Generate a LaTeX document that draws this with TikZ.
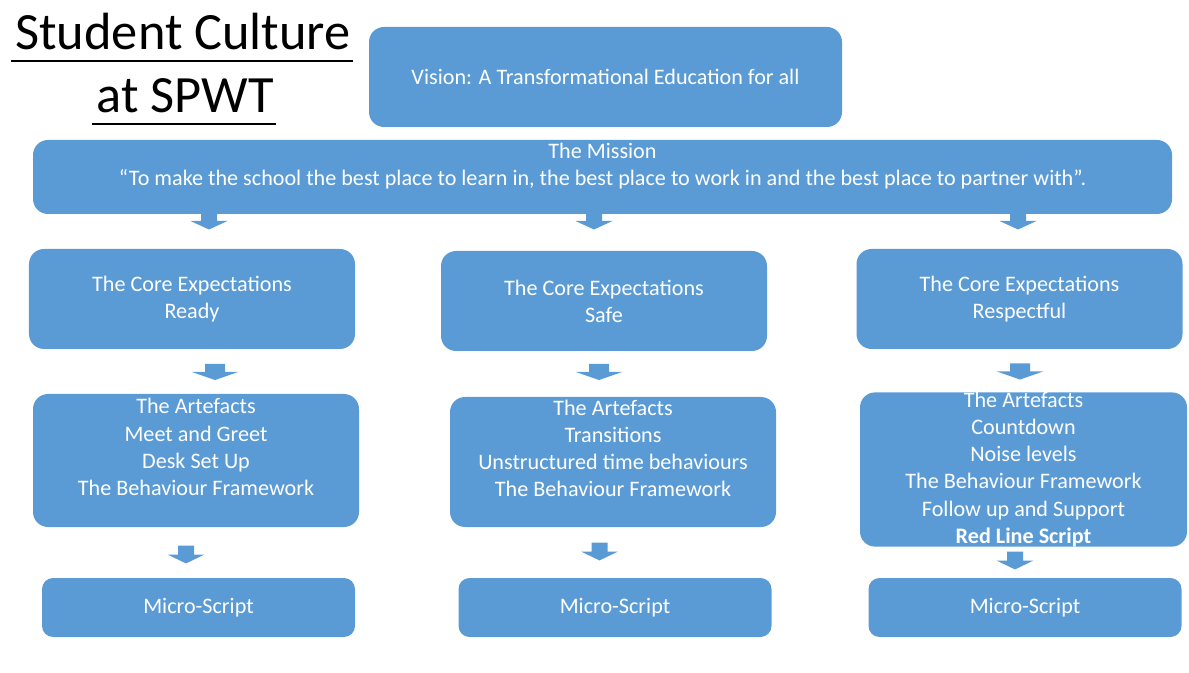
\documentclass[tikz,border=0pt]{standalone}
\usepackage{fontspec}
\setmainfont{Carlito}

\definecolor{boxblue}{HTML}{5B9BD5}

\tikzset{
    box/.style={fill=boxblue, rounded corners=0.3cm, text=white, align=center,
        inner sep=0pt, font=\fontsize{12.6}{15.4}\selectfont},
    titletext/.style={anchor=base, font=\fontsize{29.8}{35}\selectfont},
    % small block arrow pointing down, centred on its position
    downarrow/.pic={
        \fill[boxblue] (-0.16,0.16) -- (0.16,0.16) -- (0.16,-0.01) -- (0.37,-0.01)
            -- (0,-0.18) -- (-0.37,-0.01) -- (-0.16,-0.01) -- cycle;
    }
}

\begin{document}
\begin{tikzpicture}
    \useasboundingbox (0,0) rectangle (23.78,-13.46);

    % Heading, underlined line by line
    \node[titletext] (title1) at (3.66,-1.0) {Student Culture};
    \node[titletext] (title2) at (3.70,-2.26) {at SPWT};
    \foreach \t in {title1, title2} {
        \draw[line width=1.1pt] ([xshift=1pt, yshift=-6pt]\t.base west) -- ([xshift=-2pt, yshift=-6pt]\t.base east);
    }

    % Vision and mission
    \node[box, minimum width=9.46cm, minimum height=2.0cm] (vision) at (12.11,-1.54)
        {Vision: A Transformational Education for all};
    \node[box, minimum width=22.78cm, minimum height=1.48cm] (mission) at (12.05,-3.54)
        {The Mission\\“To make the school the best place to learn in, the best place to work in and the best place to partner with”.\\[-5.7pt]\strut};

    % Core expectations
    \foreach \n/\x/\y/\word in {1/3.84/-5.98/Ready, 2/12.08/-6.02/Safe, 3/20.39/-5.98/Respectful} {
        \node[box, minimum width=6.52cm, minimum height=2.0cm] (core\n) at (\x,\y)
            {The Core Expectations\\\word};
    }

    % Artefacts
    \node[box, minimum width=6.52cm, minimum height=2.66cm] (art1) at (3.92,-9.21)
        {The Artefacts\\Meet and Greet\\Desk Set Up\\The Behaviour Framework\\[-4.5pt]\strut};
    \node[box, minimum width=6.52cm, minimum height=2.60cm] (art2) at (12.26,-9.24)
        {The Artefacts\\Transitions\\Unstructured time behaviours\\The Behaviour Framework\\[-4.5pt]\strut};
    \node[box, minimum width=6.54cm, minimum height=3.06cm] (art3) at (20.47,-9.39)
        {The Artefacts\\Countdown\\Noise levels\\The Behaviour Framework\\Follow up and Support\\\textbf{Red Line Script}};

    % Micro-scripts
    \foreach \n/\x in {1/3.97, 2/12.30, 3/20.50} {
        \node[box, minimum width=6.26cm, minimum height=1.18cm, rounded corners=0.22cm] (micro\n) at (\x,-12.15) {Micro-Script};
    }

    % Block arrows between the rows
    \foreach \x in {4.18, 11.88, 20.36} {
        \pic at (\x,-4.41) {downarrow};
    }
    \foreach \x/\y in {4.30/-7.43, 11.98/-7.43, 20.40/-7.42} {
        \pic[xscale=1.25, yscale=0.95] at (\x,\y) {downarrow};
    }
    \foreach \x/\y in {3.72/-11.08, 11.99/-11.02, 20.30/-11.2} {
        \pic[yscale=1.05] at (\x,\y) {downarrow};
    }
\end{tikzpicture}
\end{document}
